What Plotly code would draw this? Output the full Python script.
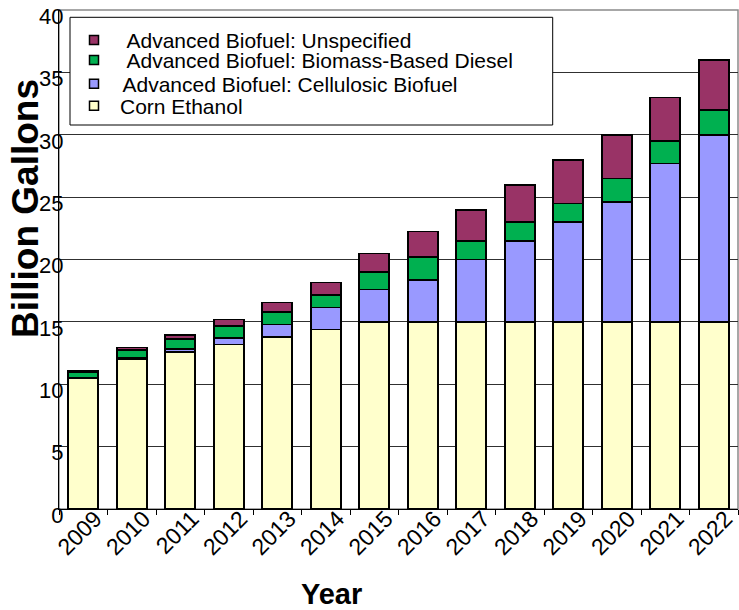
import plotly.graph_objects as go

# RFS2 renewable fuel volumes, billion gallons
years = ['2009', '2010', '2011', '2012', '2013', '2014', '2015',
         '2016', '2017', '2018', '2019', '2020', '2021', '2022']
corn_ethanol = [10.5, 12.0, 12.6, 13.2, 13.8, 14.4, 15.0,
                15.0, 15.0, 15.0, 15.0, 15.0, 15.0, 15.0]
cellulosic = [0.0, 0.1, 0.25, 0.5, 1.0, 1.75, 2.6,
              3.35, 5.0, 6.5, 8.0, 9.6, 12.7, 15.0]
biomass_diesel = [0.5, 0.65, 0.8, 1.0, 1.0, 1.0, 1.4,
                  1.85, 1.5, 1.5, 1.5, 1.9, 1.8, 2.0]
unspecified = [0.1, 0.2, 0.3, 0.5, 0.75, 1.0, 1.5,
               2.05, 2.5, 3.0, 3.5, 3.5, 3.5, 4.0]

series = [
    ('Corn Ethanol', corn_ethanol, '#FFFFCC'),
    ('Advanced Biofuel: Cellulosic Biofuel', cellulosic, '#9999FF'),
    ('Advanced Biofuel: Biomass-Based Diesel', biomass_diesel, '#00B050'),
    ('Advanced Biofuel: Unspecified', unspecified, '#993366'),
]

W, H = 739, 610
L, R, T, B = 59, 1, 10, 101
PW, PH = W - L - R, H - T - B


def px_x(x):
    return (x - L) / PW


def px_y(y):
    return (H - B - y) / PH


FONT = 'Liberation Sans, Arial, sans-serif'

fig = go.Figure()
for name, vals, color in series:
    fig.add_trace(go.Bar(
        x=years, y=vals, name=name, showlegend=False,
        marker=dict(color=color, line=dict(color='black', width=1.6)),
        width=0.62,
    ))

# legend rows (one legend per row so each line sits where it should)
legend_rows = {
    'Advanced Biofuel: Unspecified': ('legend', 40.3, 55),
    'Advanced Biofuel: Biomass-Based Diesel': ('legend2', 60.3, 55),
    'Advanced Biofuel: Cellulosic Biofuel': ('legend3', 84.0, 47),
    'Corn Ethanol': ('legend4', 106.0, 42),
}
legend_layout = {}
for name, vals, color in series:
    lg, ypos, iw = legend_rows[name]
    fig.add_trace(go.Scatter(
        x=[None], y=[None], mode='markers', name=name, legend=lg,
        marker=dict(symbol='square', size=9, color=color,
                    line=dict(color='black', width=1.5)),
        hoverinfo='skip',
    ))
    legend_layout[lg] = dict(
        x=px_x(94 - iw / 2 - 5), y=px_y(ypos), xanchor='left', yanchor='middle',
        bgcolor='rgba(0,0,0,0)', borderwidth=0, itemwidth=iw,
        font=dict(family=FONT, size=21, color='black'),
    )

fig.update_layout(
    width=W, height=H,
    margin=dict(l=L, r=R, t=T, b=B, pad=0),
    paper_bgcolor='white', plot_bgcolor='white',
    barmode='stack', bargap=0.37,
    font=dict(family=FONT, size=22, color='black'),
    showlegend=True,
    **legend_layout,
    xaxis=dict(
        type='category', showgrid=False,
        showline=True, linecolor='black', linewidth=1.3,
        ticks='outside', tickson='boundaries', ticklen=5, tickcolor='black',
        tickangle=-45, tickfont=dict(family=FONT, size=23),
        ticklabelshift=12, ticklabelstandoff=-14,
    ),
    yaxis=dict(
        range=[0, 40.02], tickvals=[0, 5, 10, 15, 20, 25, 30, 35, 40],
        showgrid=True, gridcolor='#303030', gridwidth=1,
        showline=True, linecolor='black', linewidth=1.3, zeroline=False,
        ticks='', tickfont=dict(family=FONT, size=22),
        ticklabelstandoff=-10, ticklabelshift=6,
    ),
    shapes=[
        # plot frame
        dict(type='rect', xref='paper', yref='paper', x0=0, x1=1, y0=0, y1=1,
             line=dict(color='#8a8a8a', width=1.5), layer='below'),
        # legend box
        dict(type='rect', xref='paper', yref='paper',
             x0=px_x(70), x1=px_x(552.7), y0=px_y(125), y1=px_y(17.3),
             fillcolor='white', line=dict(color='black', width=1), layer='above'),
    ],
    annotations=[
        dict(text='<b>Billion Gallons</b>', textangle=-90, showarrow=False,
             xref='paper', yref='paper', x=px_x(25.5), y=px_y(208.5),
             xanchor='center', yanchor='middle',
             font=dict(family=FONT, size=37, color='black')),
        dict(text='<b>Year</b>', showarrow=False,
             xref='paper', yref='paper', x=px_x(331), y=px_y(576),
             xanchor='center', yanchor='top',
             font=dict(family=FONT, size=29, color='black')),
    ],
)

fig.write_html('out.html')
